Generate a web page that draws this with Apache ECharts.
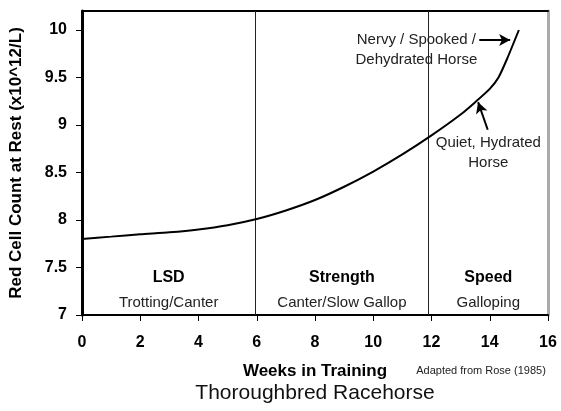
<!DOCTYPE html>
<html>
<head>
<meta charset="utf-8">
<script src="https://cdn.jsdelivr.net/npm/echarts@6/dist/echarts.min.js"></script>
<style>
  html, body { margin: 0; padding: 0; background: #fff; }
  #chart { width: 561px; height: 411px; }
</style>
</head>
<body>
<div id="chart"></div>
<script>
  // weeks in training vs red cell count at rest
  var weeks = [0, 1, 2, 3, 4, 5, 6, 7, 8, 9, 10, 11, 12, 13, 13.5, 14, 14.3, 14.6, 15]
  var redCells = [7.8, 7.825, 7.85, 7.87, 7.9, 7.945, 8.01, 8.1, 8.21, 8.35, 8.51, 8.69, 8.89, 9.11, 9.24, 9.38, 9.5, 9.7, 10.0]

  var xTicks = [0, 2, 4, 6, 8, 10, 12, 14, 16]
  var yTicks = [7, 7.5, 8, 8.5, 9, 9.5, 10]

  // training phases (start week, end week)
  var phaseNames = ['LSD', 'Strength', 'Speed']
  var phaseGaits = ['Trotting/Canter', 'Canter/Slow Gallop', 'Galloping']
  var phaseBounds = [[0, 5.95], [5.95, 11.9], [11.9, 16]]

  var font = 'Liberation Sans, Arial, sans-serif'

  var chart = echarts.init(document.getElementById('chart'), null, {renderer: 'canvas'})

  var pairs = weeks.map(function (w, i) { return [w, redCells[i]] })

  var areas = phaseBounds.map(function (b, i) {
    return [{
      xAxis: b[0],
      name: phaseNames[i],
      label: {formatter: '{b|' + phaseNames[i] + '}\n{n|' + phaseGaits[i] + '}'}
    }, {xAxis: b[1]}]
  })

  var option = {
    animation: false,
    grid: {left: 82, right: 13, top: 11, bottom: 96},
    xAxis: [{
      type: 'value',
      min: 0,
      max: 16,
      interval: 2,
      name: 'Weeks in Training',
      nameLocation: 'middle',
      nameGap: 48,
      nameTextStyle: {fontFamily: font, fontSize: 17, fontWeight: 'bold', color: '#000'},
      axisLine: {show: true, onZero: false, lineStyle: {color: '#000', width: 2}},
      axisTick: {show: true, length: 6, lineStyle: {color: '#000', width: 1}},
      axisLabel: {
        fontFamily: font, fontSize: 16, fontWeight: 'bold', color: '#000', margin: 20,
        customValues: xTicks
      },
      splitLine: {show: false}
    }, {
      type: 'value',
      position: 'top',
      min: 0,
      max: 16,
      axisLine: {show: true, onZero: false, lineStyle: {color: '#000', width: 2}},
      axisTick: {show: false},
      axisLabel: {show: false},
      splitLine: {show: false}
    }],
    yAxis: [{
      type: 'value',
      min: 7,
      max: 10.2,
      name: 'Red Cell Count at Rest (x10^12/L)',
      nameLocation: 'middle',
      nameGap: 57,
      nameTextStyle: {fontFamily: font, fontSize: 17, fontWeight: 'bold', color: '#000'},
      axisLine: {show: true, onZero: false, lineStyle: {color: '#000', width: 3}},
      axisTick: {show: true, length: 6, customValues: yTicks, lineStyle: {color: '#000', width: 1}},
      axisLabel: {
        fontFamily: font, fontSize: 16, fontWeight: 'bold', color: '#000', margin: 15,
        customValues: yTicks
      },
      splitLine: {show: false}
    }, {
      type: 'value',
      position: 'right',
      min: 7,
      max: 10.2,
      axisLine: {show: true, onZero: false, lineStyle: {color: '#aaa', width: 3}},
      axisTick: {show: false},
      axisLabel: {show: false},
      splitLine: {show: false}
    }],
    series: [{
      type: 'line',
      data: pairs,
      smooth: 0.2,
      symbol: 'none',
      lineStyle: {color: '#000', width: 2},
      z: 5,
      markLine: {
        silent: true,
        symbol: ['none', 'none'],
        label: {show: false},
        lineStyle: {color: '#222', width: 1, type: 'solid'},
        data: [{xAxis: phaseBounds[0][1]}, {xAxis: phaseBounds[1][1]}]
      },
      markArea: {
        silent: true,
        itemStyle: {color: 'rgba(0,0,0,0)'},
        label: {
          show: true,
          position: 'insideBottom',
          distance: 2,
          align: 'center',
          rich: {
            b: {fontFamily: font, fontSize: 16, fontWeight: 'bold', color: '#000', lineHeight: 30},
            n: {fontFamily: font, fontSize: 15, color: '#222', lineHeight: 20}
          }
        },
        data: areas
      }
    }, {
      // annotations: arrows and notes
      type: 'line',
      data: [],
      markLine: {
        silent: true,
        symbol: ['none', 'arrow'],
        symbolSize: [9, 11],
        label: {show: false},
        lineStyle: {color: '#000', width: 2, type: 'solid'},
        data: [
          [{coord: [13.64, 9.895]}, {coord: [14.7, 9.895]}],
          [{coord: [13.93, 8.95]}, {coord: [13.6, 9.24]}]
        ]
      },
      markPoint: {
        silent: true,
        symbol: 'circle',
        symbolSize: 0,
        label: {
          show: true,
          position: 'inside',
          fontFamily: font,
          fontSize: 15,
          lineHeight: 20,
          color: '#222',
          align: 'center',
          verticalAlign: 'middle'
        },
        data: [
          {coord: [11.48, 9.79], value: 0, label: {formatter: 'Nervy / Spooked /\nDehydrated Horse'}},
          {coord: [13.95, 8.705], value: 0, label: {formatter: 'Quiet, Hydrated\nHorse'}}
        ]
      }
    }],
    graphic: [{
      type: 'text',
      x: 315,
      y: 393,
      style: {
        text: 'Thoroughbred Racehorse',
        font: '21px ' + font,
        fill: '#111',
        textAlign: 'center',
        textVerticalAlign: 'middle'
      }
    }, {
      type: 'text',
      x: 481,
      y: 371,
      style: {
        text: 'Adapted from Rose (1985)',
        font: '11px ' + font,
        fill: '#222',
        textAlign: 'center',
        textVerticalAlign: 'middle'
      }
    }]
  }

  chart.setOption(option)
</script>
</body>
</html>
